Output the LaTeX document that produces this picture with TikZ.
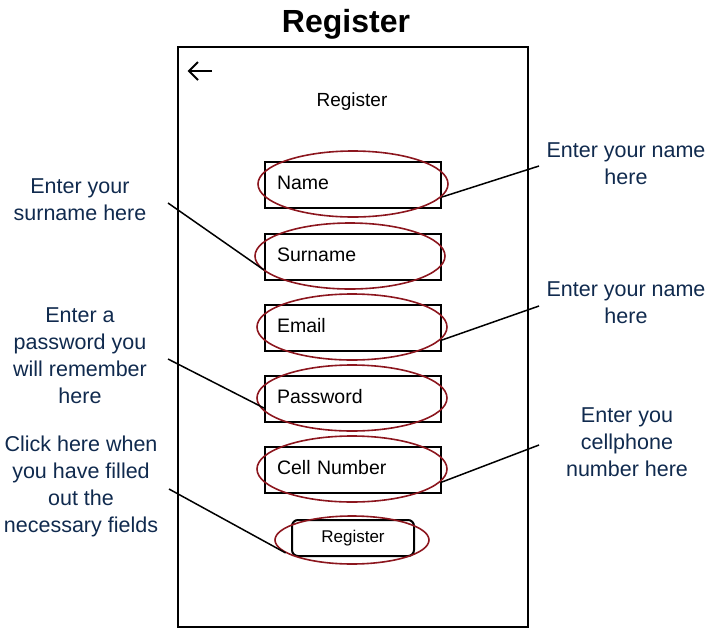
\documentclass[tikz,border=0pt]{standalone}
\usepackage{fontspec}
\setmainfont{Liberation Sans}
\usetikzlibrary{shapes.geometric}
\definecolor{lblue}{RGB}{16,42,78}
\definecolor{ered}{RGB}{140,22,30}
\begin{document}
\begin{tikzpicture}[x=1pt,y=-1pt,
  field/.style={draw, line width=2pt, minimum height=46pt, text width=152pt,
    text height=14pt, text depth=4.5pt,
    inner xsep=12pt, align=left, font=\fontsize{19.5}{23}\selectfont},
  ring/.style={draw=ered, line width=1.6pt, ellipse, inner sep=0pt,
    minimum width=190pt, minimum height=66pt},
  note/.style={text=lblue, align=center, font=\fontsize{21.5}{27}\selectfont},
  conn/.style={line width=1.5pt}]
\useasboundingbox (0,0) rectangle (710,630);

% title
\node (title) at (346,24) {\fontsize{32}{36}\selectfont\bfseries Register};

% phone frame
\node (phone) [draw, line width=2pt, inner sep=0pt, minimum width=350pt, minimum height=580pt] at (353,337) {};

% back arrow
\coordinate (backR) at (212,71);
\coordinate (backL) at (189,71);
\draw[line width=1.8pt] (backR) -- (backL);
\draw[line width=1.8pt, line join=miter] (198,62) -- (backL) -- (198,80);

% subtitle
\node (sub) at (352,102) {\fontsize{19}{22}\selectfont Register};

% fields
\node[field] (fName)  at (353,185) {Name};
\node[field] (fSur)   at (353,257) {Surname};
\node[field] (fEmail) at (353,328) {Email};
\node[field] (fPass)  at (353,399) {Password};
\node[field] (fCell)  at (353,470) {Cell Number};

% rings
\node[ring] (rName)  at (353,184) {};
\node[ring] (rSur)   at (350,256) {};
\node[ring] (rEmail) at (352,327) {};
\node[ring] (rPass)  at (352,398) {};
\node[ring] (rCell)  at (352,469) {};

% button
\node[draw, line width=2pt, rounded corners=6pt, minimum width=122pt, minimum height=36pt,
      font=\fontsize{17}{20}\selectfont] (btn) at (353,538) {Register};
\node[ring, minimum width=154pt, minimum height=48pt] (rBtn) at (352,540) {};

% notes
\node[note] (nSur)   at (80,200) {Enter your\\surname here};
\node[note] (nPass)  at (80,356) {Enter a\\password you\\will remember\\here};
\node[note] (nClick) at (81,486) {Click here when\\you have filled\\out the\\necessary fields};
\node[note] (nName)  at (626,164) {Enter your name\\here};
\node[note] (nEmail) at (626,303) {Enter your name\\here};
\node[note] (nCell)  at (627,442) {Enter you\\cellphone\\number here};

% connector ends
\coordinate (pSur)   at (168,203);
\coordinate (pPass)  at (168,359);
\coordinate (pClick) at (169,489);
\coordinate (pName)  at (539,166);
\coordinate (pEmail) at (539,306);
\coordinate (pCell)  at (539,445);

\draw[conn] (pSur)   -- ([yshift=-13pt]fSur.west);
\draw[conn] (pPass)  -- ([yshift=-9pt]fPass.west);
\draw[conn] (pClick) -- (rBtn.191);
\draw[conn] (pName)  -- ([yshift=-12pt]fName.east);
\draw[conn] (pEmail) -- ([yshift=-12pt]fEmail.east);
\draw[conn] (pCell)  -- ([yshift=-12pt]fCell.east);
\end{tikzpicture}
\end{document}
